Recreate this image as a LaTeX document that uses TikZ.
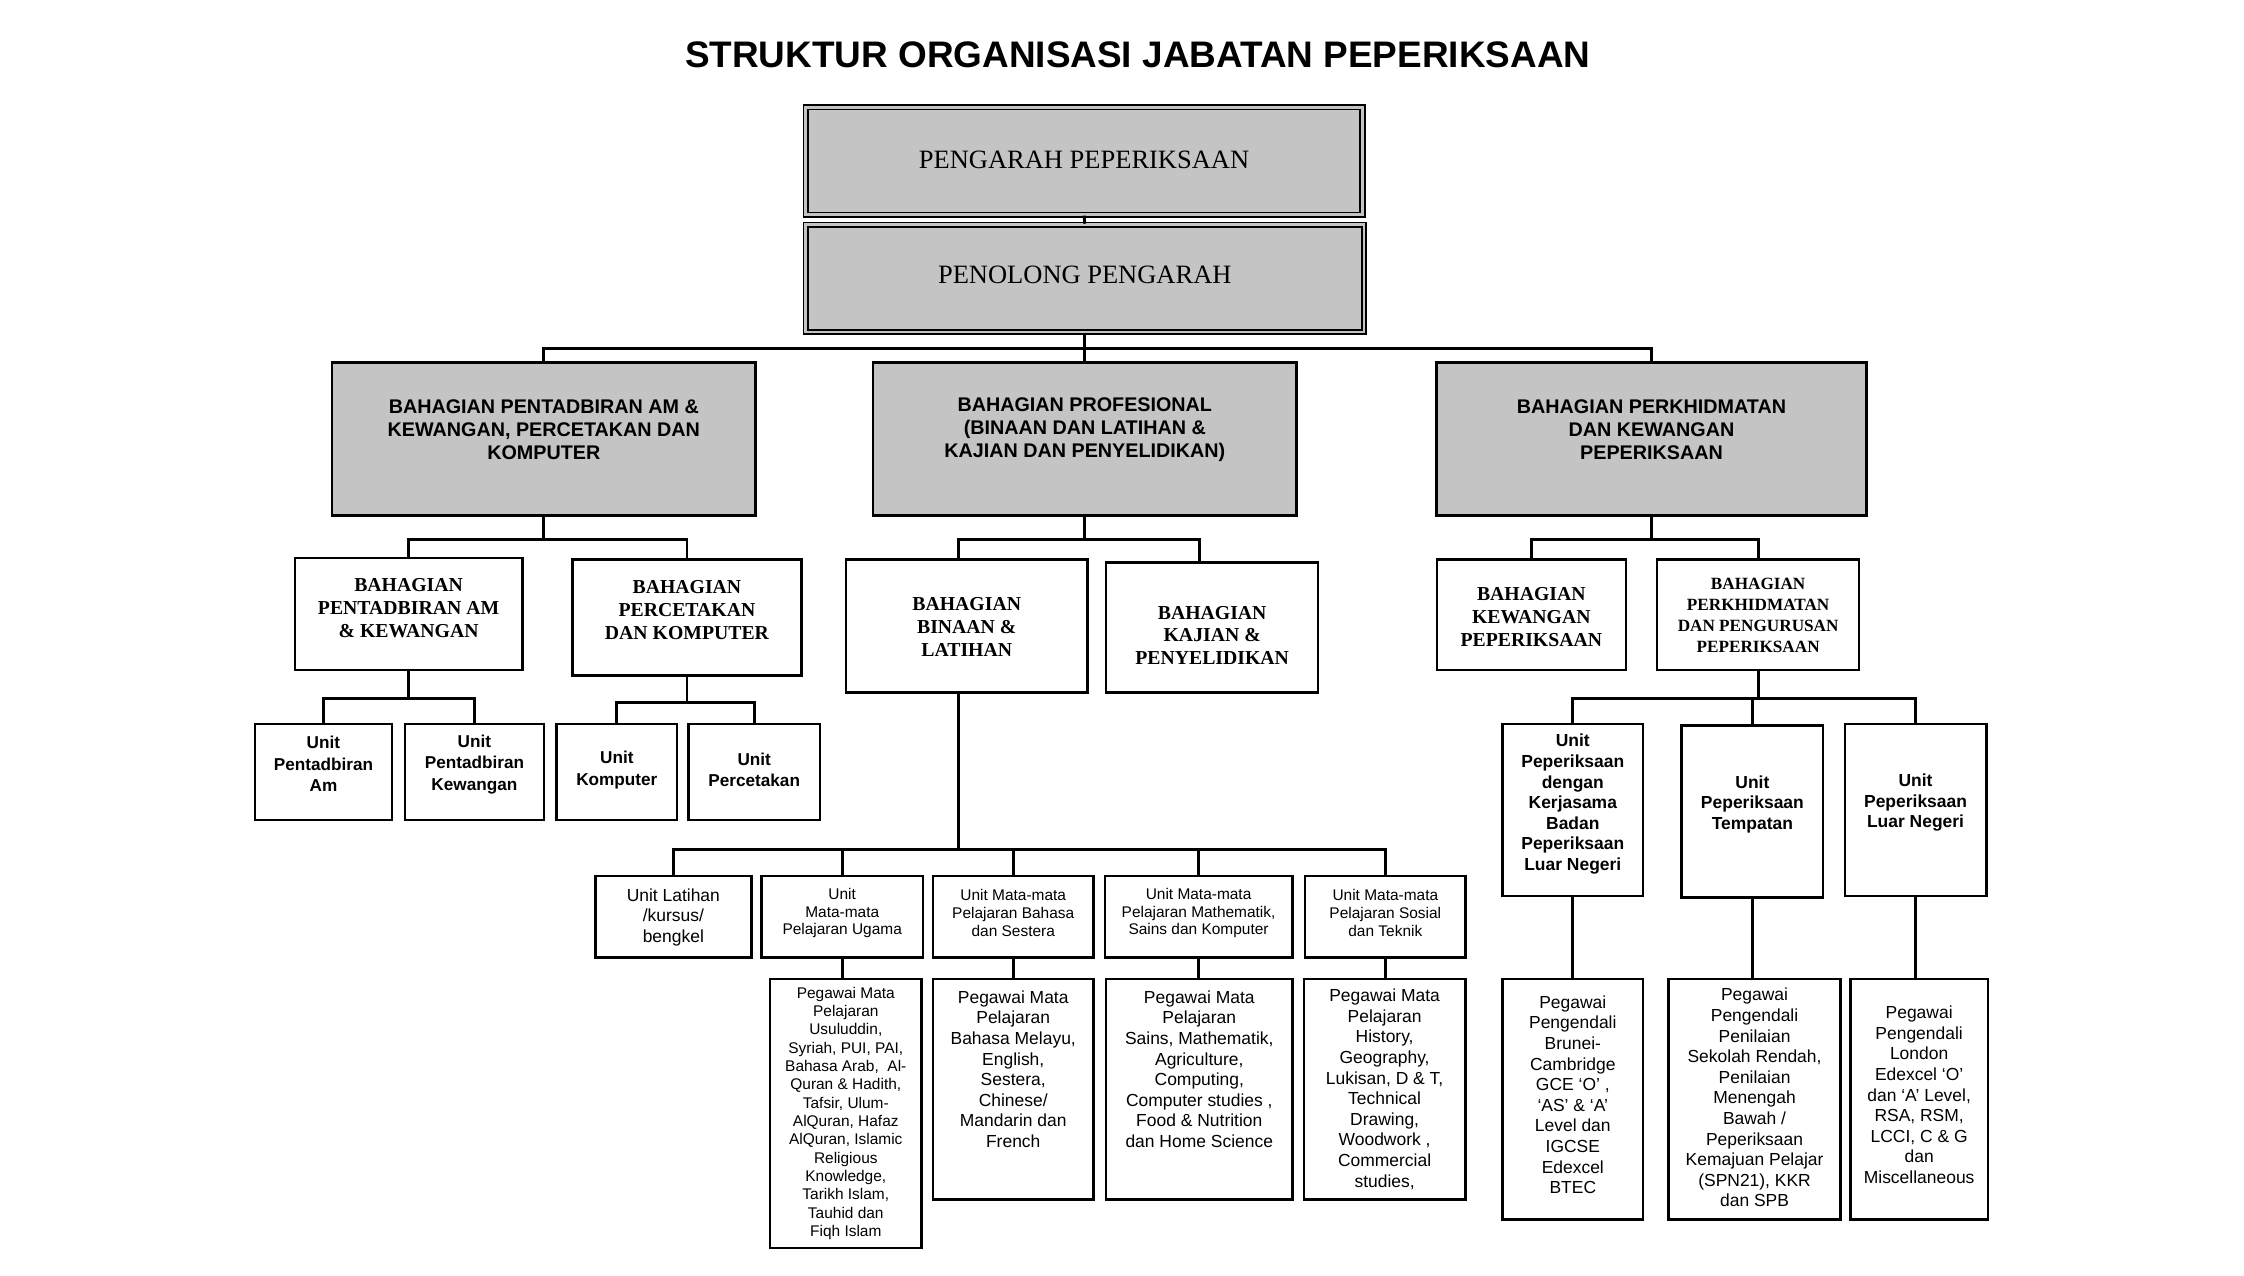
\documentclass[tikz,border=0pt]{standalone}
\usepackage{fontspec}
\setmainfont{Liberation Serif}
\setsansfont{Liberation Sans}
\definecolor{boxgray}{RGB}{196,196,196}
\newcommand\fs[2]{\fontsize{#1}{#2}\selectfont}
% #1 name, #2 box style, #3 x1, #4 y1, #5 x2, #6 y2, #7 font, #8 text centre y, #9 text
\newcommand\bx[9]{%
  \node[#2, minimum width={(#5)-(#3)}, minimum height={(#6)-(#4)}] (#1) at ({((#3)+(#5))/2},{((#4)+(#6))/2}) {};
  \node[txt, font={#7}] (#1-t) at ({((#3)+(#5))/2},#8) {#9};
}
\tikzset{
  tbox/.style={draw, line width=1.3pt, double=boxgray, double distance=1.8pt, fill=boxgray, inner sep=0},
  gbox/.style={draw, line width=2pt, fill=boxgray, inner sep=0},
  wbox/.style={draw, line width=1.7pt, fill=white, inner sep=0},
  conn/.style={line width=2pt},
  txt/.style={inner sep=0, align=center},
}
\begin{document}
\begin{tikzpicture}[x=1pt,y=-1pt]
\useasboundingbox (0,0) rectangle (1568,891.6);
\node[txt, font=\sffamily\bfseries\fs{25.8}{30}] (title) at (795,38) {STRUKTUR ORGANISASI JABATAN PEPERIKSAAN};

% top
\bx{pp}{tbox}{563}{75}{952}{150}{\rmfamily\fs{18.5}{22}}{112}{PENGARAH PEPERIKSAAN}
\bx{pl}{tbox}{563}{157}{953}{232}{\rmfamily\fs{18.5}{22}}{192}{PENOLONG PENGARAH}

% level 2
\bx{A}{gbox}{232}{253}{528}{360}{\sffamily\bfseries\fs{13.8}{16}}{300}{BAHAGIAN PENTADBIRAN AM \&\\KEWANGAN, PERCETAKAN DAN\\KOMPUTER}
\bx{B}{gbox}{610}{253}{906}{360}{\sffamily\bfseries\fs{13.8}{16}}{300}{BAHAGIAN PROFESIONAL\\(BINAAN DAN LATIHAN \&\\KAJIAN DAN PENYELIDIKAN)}
\bx{C}{gbox}{1004}{253}{1304}{360}{\sffamily\bfseries\fs{13.8}{16}}{300}{BAHAGIAN PERKHIDMATAN\\DAN KEWANGAN\\PEPERIKSAAN}

% level 3
\bx{A1}{wbox}{206}{390}{365}{468}{\rmfamily\bfseries\fs{13.8}{16}}{425}{BAHAGIAN\\PENTADBIRAN AM\\\& KEWANGAN}
\bx{A2}{wbox}{400}{391}{560}{472}{\rmfamily\bfseries\fs{13.8}{16}}{426}{BAHAGIAN\\PERCETAKAN\\DAN KOMPUTER}
\bx{B1}{wbox}{591}{391}{760}{484}{\rmfamily\bfseries\fs{13.8}{16}}{438}{BAHAGIAN\\BINAAN \&\\LATIHAN}
\bx{B2}{wbox}{773}{393}{921}{484}{\rmfamily\bfseries\fs{13.8}{16}}{444}{BAHAGIAN\\KAJIAN \&\\PENYELIDIKAN}
\bx{C1}{wbox}{1004}{391}{1136}{468}{\rmfamily\bfseries\fs{13.8}{16}}{431}{BAHAGIAN\\KEWANGAN\\PEPERIKSAAN}
\bx{C2}{wbox}{1158}{391}{1299}{468}{\rmfamily\bfseries\fs{12}{14.7}}{430}{BAHAGIAN\\PERKHIDMATAN\\DAN PENGURUSAN\\PEPERIKSAAN}

% level 4 left
\bx{A1a}{wbox}{178}{506}{274}{573}{\sffamily\bfseries\fs{12}{15}}{534}{Unit\\Pentadbiran\\Am}
\bx{A1b}{wbox}{283}{506}{380}{573}{\sffamily\bfseries\fs{12}{15}}{534}{Unit\\Pentadbiran\\Kewangan}
\bx{A2a}{wbox}{389}{506}{473}{573}{\sffamily\bfseries\fs{12}{15}}{538}{Unit\\Komputer}
\bx{A2b}{wbox}{481}{506}{573}{573}{\sffamily\bfseries\fs{12}{15}}{538}{Unit\\Percetakan}

% units under Binaan & Latihan
\bx{U1}{wbox}{416}{612}{525}{669}{\sffamily\fs{12.2}{14.5}}{641}{Unit Latihan\\/kursus/\\bengkel}
\bx{U2}{wbox}{532}{612}{645}{669}{\sffamily\fs{10.8}{12.5}}{638}{Unit\\Mata-mata\\Pelajaran Ugama}
\bx{U3}{wbox}{652}{612}{764}{669}{\sffamily\fs{10.8}{12.5}}{638}{Unit Mata-mata\\Pelajaran Bahasa\\dan Sestera}
\bx{U4}{wbox}{772}{612}{903}{669}{\sffamily\fs{10.8}{12.5}}{638}{Unit Mata-mata\\Pelajaran Mathematik,\\Sains dan Komputer}
\bx{U5}{wbox}{912}{612}{1024}{669}{\sffamily\fs{10.8}{12.5}}{638}{Unit Mata-mata\\Pelajaran Sosial\\dan Teknik}

\bx{P2}{wbox}{538}{684}{644}{872}{\sffamily\fs{10.8}{12.8}}{778}{Pegawai Mata\\Pelajaran\\Usuluddin,\\Syriah, PUI, PAI,\\Bahasa Arab,~ Al-\\Quran \& Hadith,\\Tafsir, Ulum-\\AlQuran, Hafaz\\AlQuran, Islamic\\Religious\\Knowledge,\\Tarikh Islam,\\Tauhid dan\\Fiqh Islam}
\bx{P3}{wbox}{652}{684}{764}{838}{\sffamily\fs{12.2}{14.4}}{747}{Pegawai Mata\\Pelajaran\\Bahasa Melayu,\\English,\\Sestera,\\Chinese/\\Mandarin dan\\French}
\bx{P4}{wbox}{773}{684}{903}{838}{\sffamily\fs{12.2}{14.4}}{747}{Pegawai Mata\\Pelajaran\\Sains, Mathematik,\\Agriculture,\\Computing,\\Computer studies ,\\Food \& Nutrition\\dan Home Science}
\bx{P5}{wbox}{911}{684}{1024}{838}{\sffamily\fs{12.2}{14.4}}{761}{Pegawai Mata\\Pelajaran\\History,\\Geography,\\Lukisan, D \& T,\\Technical\\Drawing,\\Woodwork ,\\Commercial\\studies,}

% right side units
\bx{R1}{wbox}{1050}{506}{1148}{626}{\sffamily\bfseries\fs{12.2}{14.4}}{562}{Unit\\Peperiksaan\\dengan\\Kerjasama\\Badan\\Peperiksaan\\Luar Negeri}
\bx{R2}{wbox}{1175}{507}{1274}{627}{\sffamily\bfseries\fs{12.2}{14.4}}{562}{Unit\\Peperiksaan\\Tempatan}
\bx{R3}{wbox}{1289}{506}{1388}{626}{\sffamily\bfseries\fs{12.2}{14.4}}{561}{Unit\\Peperiksaan\\Luar Negeri}

\bx{R1p}{wbox}{1050}{684}{1148}{852}{\sffamily\fs{12.2}{14.4}}{765}{Pegawai\\Pengendali\\Brunei-\\Cambridge\\GCE `O' ,\\`AS' \& `A'\\Level dan\\IGCSE\\Edexcel\\BTEC}
\bx{R2p}{wbox}{1166}{684}{1286}{852}{\sffamily\fs{12.2}{14.4}}{767}{Pegawai\\Pengendali\\Penilaian\\Sekolah Rendah,\\Penilaian\\Menengah\\Bawah /\\Peperiksaan\\Kemajuan Pelajar\\(SPN21), KKR\\dan SPB}
\bx{R3p}{wbox}{1293}{684}{1389}{852}{\sffamily\fs{12.2}{14.4}}{765}{Pegawai\\Pengendali\\London\\Edexcel `O'\\dan `A' Level,\\RSA, RSM,\\LCCI, C \& G\\dan\\Miscellaneous}

% connectors
\draw[conn] (pp.south) -- (pl.north);
\draw[conn] (pl.south) -- ++(0,11) -| (A.north);
\draw[conn] (pl.south) -- ++(0,11) -| (C.north);
\draw[conn] (pl.south) -- (B.north);

\draw[conn] (A.south) -- ++(0,16) -| (A1.north);
\draw[conn] (A.south) -- ++(0,16) -| (A2.north);
\draw[conn] (B.south) -- ++(0,16) -| ([xshift=-5.5pt]B1.north);
\draw[conn] (B.south) -- ++(0,16) -| ([xshift=-9pt]B2.north);
\draw[conn] (C.south) -- ++(0,16) -| (C1.north);
\draw[conn] (C.south) -- ++(0,16) -| (C2.north);

\draw[conn] (A1.south) -- ++(0,19) -| (A1a.north);
\draw[conn] (A1.south) -- ++(0,19) -| (A1b.north);
\draw[conn] (A2.south) -- ++(0,18) -| (A2a.north);
\draw[conn] (A2.south) -- ++(0,18) -| (A2b.north);

\foreach \u in {U1,U2,U3,U4,U5}
  \draw[conn] ([xshift=-5.5pt]B1.south) -- ++(0,109) -| (\u.north);
\draw[conn] (U2.south) -- (U2.south |- P2.north);
\draw[conn] (U3.south) -- (U3.south |- P3.north);
\draw[conn] (U4.south) -- (U4.south |- P4.north);
\draw[conn] (U5.south) -- (U5.south |- P5.north);

\foreach \r in {R1,R2,R3}
  \draw[conn] (C2.south) -- ++(0,19) -| (\r.north);
\draw[conn] (R1.south) -- (R1.south |- R1p.north);
\draw[conn] (R2.south) -- (R2.south |- R2p.north);
\draw[conn] (R3.south) -- (R3.south |- R3p.north);
\end{tikzpicture}
\end{document}
